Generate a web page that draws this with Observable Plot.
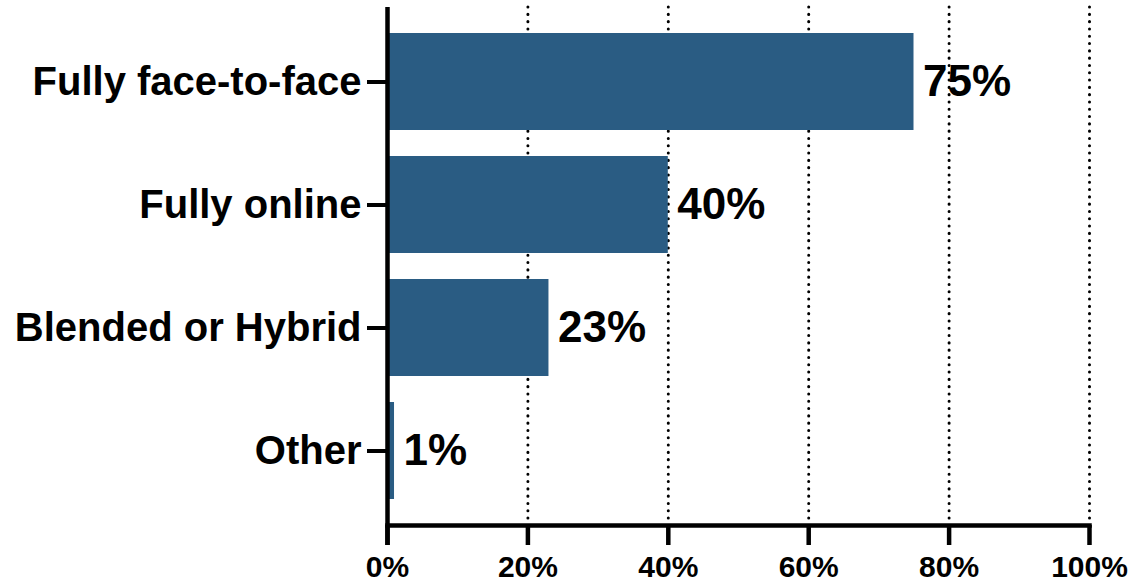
<!DOCTYPE html>
<html><head><meta charset="utf-8">
<script src="https://cdn.jsdelivr.net/npm/d3@7"></script>
<script src="https://cdn.jsdelivr.net/npm/@observablehq/plot@0.6"></script>
<style>body{margin:0;background:#fff}</style>
</head><body><div id="chart"></div>
<script>
const categories = ["Fully face-to-face", "Fully online", "Blended or Hybrid", "Other"];
const values = [75, 40, 23, 1];
const xTicks = [0, 20, 40, 60, 80, 100];
const xTickLabels = ["0%", "20%", "40%", "60%", "80%", "100%"];

const data = categories.map((c, i) => ({category: c, value: values[i], label: values[i] + "%"}));

const plot = Plot.plot({
  width: 1132, height: 583,
  marginLeft: 387, marginRight: 43, marginTop: 7, marginBottom: 58,
  style: {fontFamily: "'Liberation Sans', Arial, sans-serif", fontWeight: "bold", color: "black", background: "white", overflow: "visible"},
  x: {domain: [0, 100], label: null},
  y: {domain: categories, paddingInner: 0.21, paddingOuter: 0.194, align: 0.5, label: null},
  marks: [
    Plot.gridX(xTicks.slice(1), {stroke: "black", strokeOpacity: 1, strokeWidth: 3, strokeDasharray: "0.1,7.2", strokeLinecap: "round"}),
    Plot.barX(data, {x: "value", y: "category", fill: "#2a5c83"}),
    Plot.text(data, {x: "value", y: "category", text: "label", textAnchor: "start", dx: 9, fontSize: 44, fontWeight: "bold", fill: "black"}),
    Plot.frame({anchor: "bottom", stroke: "black", strokeWidth: 4.5}),
    Plot.ruleX([0], {stroke: "black", strokeWidth: 4.5, insetBottom: -20}),
    Plot.axisX(xTicks, {tickSize: 20, tickPadding: 10, stroke: "black", strokeWidth: 4.5, fontSize: 30, fontWeight: "bold", fill: "black", tickFormat: d => xTickLabels[xTicks.indexOf(d)], label: null}),
    Plot.axisY({tickSize: 20, tickPadding: 6, stroke: "black", strokeWidth: 4, fontSize: 40, fontWeight: "bold", fill: "black", label: null})
  ]
});
document.getElementById("chart").appendChild(plot);
</script>
</body></html>
